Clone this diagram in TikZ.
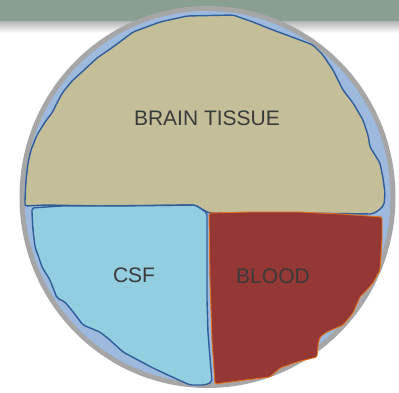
\documentclass[tikz,border=0pt]{standalone}
\usepackage{fontspec}
\setmainfont{Liberation Sans}
\usetikzlibrary{positioning}
\definecolor{bannergreen}{HTML}{8A9E92}
\definecolor{ringgray}{HTML}{A6A6A6}
\definecolor{rimblue}{HTML}{9DB9DD}
\definecolor{tissuetan}{HTML}{C5BF99}
\definecolor{csfblue}{HTML}{93CDE0}
\definecolor{bloodred}{HTML}{953735}
\definecolor{edgeblue}{HTML}{2F5E9A}
\definecolor{edgeorange}{HTML}{E2711F}
\definecolor{labelgray}{HTML}{3A3A3A}

\begin{document}
\begin{tikzpicture}[
x=1pt, y=-1pt,
region/.style={draw=edgeblue, line width=1.4pt, line join=round, rounded corners=2pt},
bloodregion/.style={draw=edgeorange, line width=0.9pt, line join=round, rounded corners=1.5pt, fill=bloodred},
label/.style={font=\fontsize{21}{21}\selectfont, text=labelgray, inner sep=0pt, anchor=base}
]
\useasboundingbox (0,0) rectangle (399,392);
\clip (0,0) rectangle (399,392);
\fill[white] (0,0) rectangle (399,392);
% banner strip and its shadow
\fill[bannergreen] (0,0) rectangle (399,21);
\shade[top color=black!30, bottom color=white] (0,21) rectangle (399,33);
% skull ring and rim
\fill[ringgray] (207.5,197) ellipse[x radius=188pt, y radius=191pt];
\fill[rimblue] (207.5,197) ellipse[x radius=183pt, y radius=186pt];
% brain tissue
\filldraw[region, fill=tissuetan] (25,206) -- (25,200) -- (26,180) -- (28,163) -- (31,150) -- (37,135)
  -- (45,122) -- (52,113) -- (58,101) -- (63,92) -- (72,81) -- (83,71) -- (97,58) -- (113,47)
  -- (133,32) -- (160,22) -- (187,16) -- (233,15) -- (253,22) -- (273,30) -- (300,40) -- (313,45)
  -- (323,55) -- (333,70) -- (343,90) -- (353,103) -- (363,120) -- (368,135) -- (370,147) -- (380,163)
  -- (383,178) -- (385,193) -- (384,205) -- (378,211) -- (372,214) -- (300,213) -- (240,213)
  -- (209,213) -- (200,208) -- (195,205) -- (100,206) -- (45,205) -- cycle;
% csf
\filldraw[region, fill=csfblue] (32,208) -- (60,206) -- (120,206) -- (195,205) -- (200,208)
  -- (207,213) -- (207,260) -- (207,300) -- (208,333) -- (212,382) -- (205,385) -- (190,385)
  -- (170,376) -- (153,368) -- (138,360) -- (123,352) -- (110,340) -- (100,332) -- (83,325)
  -- (74,313) -- (65,302) -- (57,298) -- (50,280) -- (42,267) -- (38,255) -- (35,247)
  -- (33,230) -- (32,213) -- cycle;
% blood
\filldraw[bloodregion] (209,213) -- (250,212) -- (300,212) -- (340,214) -- (382,217) -- (382,240)
  -- (380,270) -- (373,283) -- (365,292) -- (360,297) -- (353,313) -- (343,325) -- (327,332)
  -- (320,337) -- (318,345) -- (317,357) -- (297,362) -- (280,368) -- (270,377) -- (245,380)
  -- (215,384) -- (212,340) -- (210,280) -- cycle;
% labels
\node[label] (tissue) at (207,125) {BRAIN TISSUE};
\node[label] (csf) at (134,282) {CSF};
\node[label] (blood) at (273,283) {BLOOD};
\end{tikzpicture}
\end{document}
